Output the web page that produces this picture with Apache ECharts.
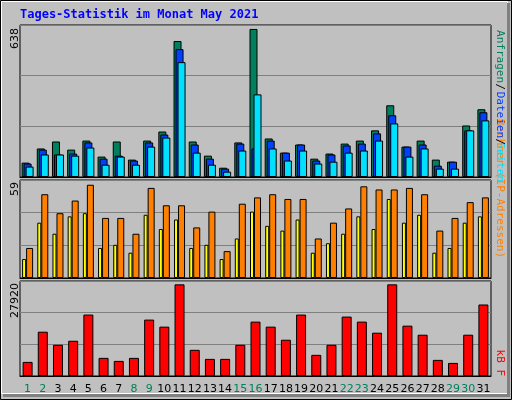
<!DOCTYPE html>
<html>
<head>
<meta charset="utf-8">
<script src="https://cdn.jsdelivr.net/npm/echarts@6/dist/echarts.min.js"></script>
<style>
  html, body { margin: 0; padding: 0; background: #c0c0c0; }
  #chart { width: 512px; height: 400px; }
</style>
</head>
<body>
<div id="chart"></div>
<script>
const days = ["1","2","3","4","5","6","7","8","9","10","11","12","13","14","15","16","17","18","19","20","21","22","23","24","25","26","27","28","29","30","31"];
const weekend = ["1","2","8","9","15","16","22","23","29","30"];

const hits = [62,123,153,118,157,88,153,75,157,196,586,153,92,40,149,638,166,105,140,79,101,144,157,201,309,131,157,75,66,222,292];
const files = [58,118,97,101,149,79,92,71,149,183,551,140,79,36,144,123,157,105,140,71,97,136,144,188,266,131,140,49,66,201,279];
const pages = [45,97,97,92,127,53,88,53,131,170,495,105,53,23,114,356,123,71,114,58,66,105,114,157,231,88,123,36,36,201,244];

const visits = [19,53,41,49,59,38,38,28,57,46,46,32,42,17,47,51,53,50,50,25,35,44,58,56,56,57,53,30,38,48,51];
const sites = [12,35,28,39,41,19,21,16,40,31,37,19,21,12,25,42,33,30,37,16,22,28,39,31,50,35,40,16,19,35,39];

const kbytes = [4296,13500,9511,10738,18716,5523,4602,5523,17182,15034,27920,7977,5216,5216,9511,16568,15034,11045,18716,6443,9511,18102,16568,13193,27920,15341,12580,4909,3989,12580,21784];

const chart = echarts.init(document.getElementById("chart"));

const grids = [
  { left: 20, right: 21, top: 25, height: 152 },
  { left: 20, right: 21, top: 180, height: 98 },
  { left: 20, right: 21, top: 281, height: 95 }
];
const maxes = [655, 62, 28943];

function xAx(i) {
  return {
    type: "category", gridIndex: i, data: days,
    axisLine: { lineStyle: { color: "#000", width: 1 } },
    axisTick: { show: false },
    axisLabel: i === 2 ? {
      interval: 0, margin: 8, fontSize: 11, fontFamily: "DejaVu Sans",
      color: (v) => weekend.includes(v) ? "#00805c" : "#000"
    } : { show: false }
  };
}
function yAx(i) {
  return {
    type: "value", gridIndex: i, min: 0, max: maxes[i], interval: maxes[i] / 3,
    axisLabel: { show: false }, axisTick: { show: false },
    axisLine: { show: false },
    splitLine: { lineStyle: { color: "#808080", width: 1 } }
  };
}

const border = { borderColor: "#000", borderWidth: 1 };

function vText(x, y, text, color, font) {
  return {
    type: "text", x: x, y: y, rotation: -Math.PI / 2,
    style: { text: text, fill: color, font: font || "11px DejaVu Sans Mono", textAlign: "right", textVerticalAlign: "bottom" }
  };
}
function lText(x, y, text) {
  return {
    type: "text", x: x, y: y, rotation: Math.PI / 2,
    style: { text: text, fill: "#000", font: "11px DejaVu Sans", textAlign: "right", textVerticalAlign: "top" }
  };
}

chart.setOption({
  backgroundColor: "#c0c0c0",
  animation: false,
  grid: grids.map(g => Object.assign({ borderColor: "#000", borderWidth: 1, show: true, backgroundColor: "#c0c0c0" }, g)),
  xAxis: [xAx(0), xAx(1), xAx(2)],
  yAxis: [yAx(0), yAx(1), yAx(2)],
  series: [
    { type: "bar", xAxisIndex: 0, yAxisIndex: 0, data: hits, barWidth: 8, barGap: "-75%", itemStyle: Object.assign({ color: "#00805c" }, border) },
    { type: "bar", xAxisIndex: 0, yAxisIndex: 0, data: files, barWidth: 8, barGap: "-75%", itemStyle: Object.assign({ color: "#0040ff" }, border) },
    { type: "bar", xAxisIndex: 0, yAxisIndex: 0, data: pages, barWidth: 8, barGap: "-75%", itemStyle: Object.assign({ color: "#00e0ff" }, border) },
    { type: "bar", xAxisIndex: 1, yAxisIndex: 1, data: sites, barWidth: 4, barGap: "0%", itemStyle: Object.assign({ color: "#ffff00" }, border) },
    { type: "bar", xAxisIndex: 1, yAxisIndex: 1, data: visits, barWidth: 7, barGap: "0%", itemStyle: Object.assign({ color: "#ff8000" }, border) },
    { type: "bar", xAxisIndex: 2, yAxisIndex: 2, data: kbytes, barWidth: 10, itemStyle: Object.assign({ color: "#ff0000" }, border) }
  ],
  graphic: [
    { type: "rect", shape: { x: 0.5, y: 0.5, width: 511, height: 399 }, style: { fill: "none", stroke: "#000", lineWidth: 1 } },
    { type: "rect", shape: { x: 1.5, y: 1.5, width: 506, height: 392 }, style: { fill: "none", stroke: "#fff", lineWidth: 1 } },
    { type: "polyline", shape: { points: [[508.5, 3], [508.5, 395.5], [3, 395.5]] }, style: { stroke: "#808080", lineWidth: 3, fill: "none" } },
    { type: "text", x: 20, y: 9, style: { text: "Tages-Statistik im Monat May 2021", fill: "#0000ff", font: "bold 12px DejaVu Sans Mono" } },
    lText(10, 28, "638"),
    lText(10, 182, "59"),
    lText(10, 283, "27920"),
    vText(494, 258, "Rechner (IP-Adressen)", "#ff8000"),
    vText(494, 182, "Seiten", "#00e0ff"),
    vText(494, 145, "/", "#000"),
    vText(494, 138, "Dateien", "#0040ff"),
    vText(494, 90, "/", "#000"),
    vText(494, 83, "Anfragen", "#00805c"),
    vText(494, 376, "kB F", "#ff0000")
  ]
});
</script>
</body>
</html>
